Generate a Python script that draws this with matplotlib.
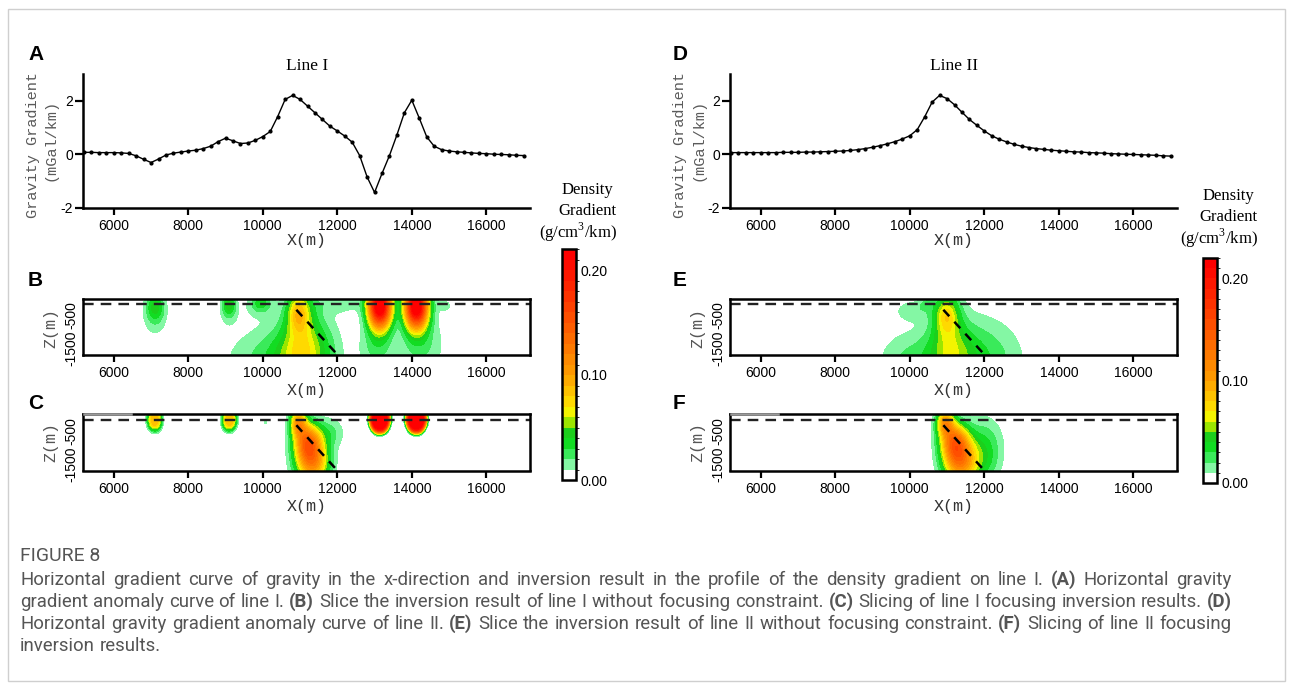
import numpy as np
import matplotlib
matplotlib.use("Agg")
import matplotlib.pyplot as plt
from matplotlib.colors import ListedColormap, BoundaryNorm
from matplotlib.cm import ScalarMappable
from matplotlib.patches import Rectangle

plt.rcParams['axes.unicode_minus'] = False
plt.rcParams['mathtext.fontset'] = 'custom'
plt.rcParams['mathtext.rm'] = 'Liberation Serif'

W, H = 1293, 686
fig = plt.figure(figsize=(W / 100, H / 100), dpi=100)

SANS = 'Liberation Sans'
SERIF = 'Liberation Serif'
MONO = 'Liberation Mono'
CAPTION = 'Roboto'

# ---------------- data ----------------
# horizontal gravity gradient (mGal/km) at stations every 200 m
stations = np.arange(5200, 17001, 200)
line1_gradient = [
    0.07, 0.07, 0.06, 0.06, 0.06, 0.05, 0.03,
    -0.06, -0.19, -0.31, -0.18, -0.03, 0.04, 0.08,
    0.12, 0.15, 0.21, 0.30, 0.47, 0.60, 0.50,
    0.40, 0.42, 0.52, 0.66, 0.85, 1.41, 2.05,
    2.20, 2.05, 1.80, 1.55, 1.30, 1.05, 0.87,
    0.68, 0.45, -0.05, -0.85, -1.43, -0.72, -0.05,
    0.72, 1.55, 2.02, 1.35, 0.65, 0.30, 0.17,
    0.12, 0.09, 0.07, 0.05, 0.03, 0.02, 0.00,
    -0.01, -0.02, -0.04, -0.05,
]
line2_gradient = [
    0.06, 0.06, 0.06, 0.06, 0.06, 0.06, 0.06,
    0.07, 0.07, 0.07, 0.08, 0.08, 0.09, 0.10,
    0.11, 0.12, 0.14, 0.17, 0.21, 0.26, 0.32,
    0.39, 0.47, 0.57, 0.69, 0.92, 1.40, 1.95,
    2.20, 2.08, 1.85, 1.57, 1.30, 1.08, 0.87,
    0.69, 0.56, 0.46, 0.37, 0.30, 0.25, 0.21,
    0.18, 0.15, 0.13, 0.11, 0.09, 0.08, 0.06,
    0.05, 0.04, 0.02, 0.01, 0.00, -0.01, -0.02,
    -0.03, -0.04, -0.06, -0.07,
]

# density gradient colour scale (g/cm3/km)
grad_levels = np.round(np.arange(0, 0.2201, 0.01), 2)
band_colors = [
    '#ffffff', '#84f7a4', '#3aea5a', '#12dc22', '#1ccf1c', '#9be600',
    '#f4f400', '#ffd900', '#ffc200', '#ffab00', '#ff9800', '#ff8a00',
    '#ff7a00', '#ff6c00', '#ff5d00', '#ff4f00', '#ff4100', '#ff3300',
    '#ff2500', '#ff1800', '#ff0b00', '#ff0000',
]

# anomalous bodies of each section: x0, z0, spread x, spread z, peak, shape exponent
bodies_b = [
    (7110, -200, 170, 280, 0.035, 2),
    (7110, -600, 230, 400, 0.017, 2),
    (9090, -150, 120, 220, 0.035, 2),
    (9090, -400, 170, 300, 0.015, 2),
    (9950, -100, 180, 180, 0.026, 2),
    (9900, -250, 300, 250, 0.011, 2),
    (10950, -400, 190, 380, 0.044, 2),
    (11000, -500, 280, 600, 0.035, 2),
    (11000, -1700, 420, 700, 0.032, 2),
    (10950, -1900, 650, 800, 0.026, 2),
    (10000, -2000, 800, 800, 0.018, 2),
    (11500, -1500, 400, 900, 0.016, 2),
    (12100, -150, 500, 200, 0.014, 2),
    (13140, -200, 215, 480, 0.240, 2),
    (14120, -200, 215, 480, 0.240, 2),
    (13050, -1500, 320, 550, 0.022, 2),
    (14250, -1400, 420, 650, 0.022, 2),
    (14900, -200, 150, 150, 0.012, 2),
]
bodies_c = [
    (7100, -170, 150, 260, 0.090, 3),
    (9100, -170, 150, 260, 0.090, 3),
    (10080, -250, 50, 60, 0.012, 2),
    (10950, -250, 150, 280, 0.090, 2),
    (11200, -800, 250, 380, 0.110, 2),
    (11330, -1450, 300, 450, 0.110, 2),
    (11800, -550, 280, 320, 0.020, 2),
    (13140, -150, 246, 385, 0.230, 6),
    (14120, -150, 246, 385, 0.230, 6),
]
bodies_e = [
    (10980, -500, 200, 350, 0.030, 2),
    (11000, -500, 260, 600, 0.035, 2),
    (11080, -1700, 420, 700, 0.035, 2),
    (11800, -1900, 800, 900, 0.032, 2),
    (10000, -2000, 600, 700, 0.022, 2),
    (10100, -350, 350, 220, 0.016, 2),
    (10450, -150, 130, 110, 0.015, 2),
]
bodies_f = [
    (10950, -250, 160, 280, 0.090, 2),
    (11200, -800, 260, 380, 0.110, 2),
    (11350, -1450, 310, 450, 0.110, 2),
    (12000, -900, 350, 600, 0.025, 2),
    (12000, -1500, 300, 500, 0.015, 2),
]

surface_z = -160
fault_x = [10900, 12000]
fault_z = [-330, -1700]
topo_x = [5200, 6450]

x_ticks = [6000, 8000, 10000, 12000, 14000, 16000]
z_ticks = [-500, -1500]
g_ticks = [-2, 0, 2]
XLIM = (5165, 17170)
ZLIM = (-1700, 0)

# ---------------- helpers ----------------
def axes_px(left, top, right, bottom):
    return fig.add_axes([left / W, 1 - bottom / H, (right - left) / W, (bottom - top) / H])


def text_px(x, y, s, **kw):
    return fig.text(x / W, 1 - y / H, s, **kw)


gx = np.linspace(XLIM[0], XLIM[1], 801)
gz = np.linspace(ZLIM[0], ZLIM[1], 241)
GX, GZ = np.meshgrid(gx, gz)


def section_field(bodies):
    field = np.zeros_like(GX)
    for x0, z0, sx, sz, peak, p in bodies:
        r2 = ((GX - x0) / sx) ** 2 + ((GZ - z0) / sz) ** 2
        field += peak * np.exp(-0.5 * r2 ** (p / 2.0))
    return field


def style_ticks(ax):
    ax.set_xlim(*XLIM)
    ax.set_xticks(x_ticks)
    ax.set_xticklabels([str(v) for v in x_ticks])
    ax.tick_params(axis='x', direction='out', length=5, width=1.6, pad=3,
                   labelsize=10)
    for lab in ax.get_xticklabels() + ax.get_yticklabels():
        lab.set_family(SANS)


def gradient_panel(ax, values):
    ax.plot(stations, values, color='black', lw=1.0, marker='o', ms=2.0,
            mfc='black', mec='black')
    ax.set_ylim(-2, 3)
    ax.set_yticks(g_ticks)
    ax.set_yticklabels([str(v) for v in g_ticks])
    ax.tick_params(axis='y', direction='out', length=6, width=1.6, pad=1,
                   labelsize=10)
    for side in ('top', 'right'):
        ax.spines[side].set_visible(False)
    for side in ('left', 'bottom'):
        ax.spines[side].set_linewidth(1.8)
    style_ticks(ax)
    ax.patch.set_alpha(0)


def section_panel(ax, bodies, topo=False):
    field = np.clip(section_field(bodies), 0, 0.2199)
    ax.contourf(GX, GZ, field, levels=grad_levels, colors=band_colors)
    ax.axhline(surface_z, color='#222222', lw=1.7, dashes=(4.5, 3.0))
    ax.plot(fault_x, fault_z, color='black', lw=1.8, dashes=(3.5, 3.0))
    ax.set_ylim(*ZLIM)
    ax.set_yticks(z_ticks)
    ax.set_yticklabels([str(v) for v in z_ticks], rotation=90, va='center')
    ax.tick_params(axis='y', length=0, pad=3, labelsize=10)
    for side in ax.spines:
        ax.spines[side].set_linewidth(1.8)
    style_ticks(ax)
    if topo:
        ax.plot(topo_x, [0, 0], color='#9a9a9a', lw=1.8, clip_on=False, zorder=5)


# ---------------- figure frame ----------------
fig.patches.append(Rectangle((8 / W, 1 - 681 / H), (1285 - 8) / W, (681 - 9) / H,
                             transform=fig.transFigure, fill=False,
                             ec='#cfcfcf', lw=1.0))

cmap = ListedColormap(band_colors)
norm = BoundaryNorm(grad_levels, cmap.N)

for dx, profile, title, letters, sections, cbar_box, cb_dy in (
        (0, line1_gradient, 'Line I', ('A', 'B', 'C'), (bodies_b, bodies_c),
         (562, 249, 576, 480), 0),
        (647, line2_gradient, 'Line II', ('D', 'E', 'F'), (bodies_e, bodies_f),
         (1203, 258, 1217, 483), 6)):
    left = 82.7 + dx
    right = left + 447.2

    ax_g = axes_px(left, 74, right, 207.7)
    gradient_panel(ax_g, profile)
    text_px(left + 224, 66, title, family=SERIF, fontsize=12.5,
            ha='center', va='center')
    text_px(33 + dx, 145, 'Gravity Gradient', family=MONO, fontsize=11,
            color='#5a5a5a', rotation=90, ha='center', va='center')
    text_px(51 + dx, 140, '(mGal/km)', family=MONO, fontsize=11,
            color='#5a5a5a', rotation=90, ha='center', va='center')
    text_px(left + 224, 241, 'X(m)', family=MONO, fontsize=12, color='#333333',
            ha='center', va='center')

    ax_u = axes_px(left, 299, right, 354.5)
    section_panel(ax_u, sections[0])
    text_px(51 + dx, 328, 'Z(m)', family=MONO, fontsize=12, color='#555555',
            rotation=90, ha='center', va='center')
    text_px(left + 224, 390, 'X(m)', family=MONO, fontsize=12, color='#333333',
            ha='center', va='center')

    ax_l = axes_px(left, 414.3, right, 470.5)
    section_panel(ax_l, sections[1], topo=True)
    text_px(51 + dx, 442, 'Z(m)', family=MONO, fontsize=12, color='#555555',
            rotation=90, ha='center', va='center')
    text_px(left + 224, 506, 'X(m)', family=MONO, fontsize=12, color='#333333',
            ha='center', va='center')

    for letter, yb in zip(letters, (60, 286, 409)):
        text_px(28 + dx - (0 if dx == 0 else 2), yb, letter, family=SANS,
                fontweight='bold', fontsize=15, ha='left', va='baseline')

    # colour bar
    cax = axes_px(*cbar_box)
    cb = fig.colorbar(ScalarMappable(norm=norm, cmap=cmap), cax=cax,
                      ticks=[0.0, 0.1, 0.2], spacing='proportional')
    cb.ax.set_yticklabels(['0.00', '0.10', '0.20'])
    cb.ax.tick_params(length=0, pad=3, labelsize=10)
    for lab in cb.ax.get_yticklabels():
        lab.set_family(SANS)
    cb.outline.set_linewidth(1.8)
    cxc = (cbar_box[0] + cbar_box[2]) / 2
    text_px(cxc + 18, 190 + cb_dy, 'Density', family=SERIF, fontsize=12,
            ha='center', va='center')
    text_px(cxc + 18, 211 + cb_dy, 'Gradient', family=SERIF, fontsize=12,
            ha='center', va='center')
    text_px(cxc + 9, 232 + cb_dy, '(g/cm$^{3}$/km)', family=SERIF, fontsize=12,
            ha='center', va='center')

# ---------------- caption ----------------
renderer = fig.canvas.get_renderer()
CAP_COLOR = '#555555'
CAP_LEFT, CAP_RIGHT = 20, 1232
caption_lines = [
    [('Horizontal gradient curve of gravity in the x-direction and inversion result in the profile of the density gradient on line I.', False),
     ('(A)', True), ('Horizontal gravity', False)],
    [('gradient anomaly curve of line I.', False), ('(B)', True),
     ('Slice the inversion result of line I without focusing constraint.', False),
     ('(C)', True), ('Slicing of line I focusing inversion results.', False),
     ('(D)', True)],
    [('Horizontal gravity gradient anomaly curve of line II.', False), ('(E)', True),
     ('Slice the inversion result of line II without focusing constraint.', False),
     ('(F)', True), ('Slicing of line II focusing', False)],
    [('inversion results.', False)],
]


def caption_word(x, y, word, bold, size):
    return text_px(x, y, word, family=CAPTION, fontsize=size,
                   color=CAP_COLOR, fontweight='bold' if bold else 'normal',
                   ha='left', va='center')


def line_words(parts):
    return [(w, b) for s, b in parts for w in s.split(' ')]


# font size: the widest caption line just fills the text block
natural = []
for parts in caption_lines:
    probe = [caption_word(0, 0, w, b, 20) for w, b in line_words(parts)]
    ws = [a.get_window_extent(renderer).width for a in probe]
    natural.append(sum(ws) + 20 * 100 / 72 * 0.26 * (len(ws) - 1))
    for a in probe:
        a.remove()
CAP_SIZE = 20 * (CAP_RIGHT - CAP_LEFT) / max(natural)


def justified_line(y, parts, justify):
    words = line_words(parts)
    artists = [caption_word(CAP_LEFT, y, w, b, CAP_SIZE) for w, b in words]
    widths = [a.get_window_extent(renderer).width for a in artists]
    gap = CAP_SIZE * 100 / 72 * 0.26
    if justify and len(words) > 1:
        gap = max(gap * 0.8, (CAP_RIGHT - CAP_LEFT - sum(widths)) / (len(words) - 1))
    x = CAP_LEFT
    for a, w in zip(artists, widths):
        a.set_x(x / W)
        x += w + gap


text_px(CAP_LEFT, 556, 'FIGURE 8', family=CAPTION, fontsize=CAP_SIZE + 0.5,
        color=CAP_COLOR, ha='left', va='center')
for i, parts in enumerate(caption_lines):
    justified_line(580 + 22 * i, parts, i < len(caption_lines) - 1)

fig.savefig('out.png', dpi=100)
